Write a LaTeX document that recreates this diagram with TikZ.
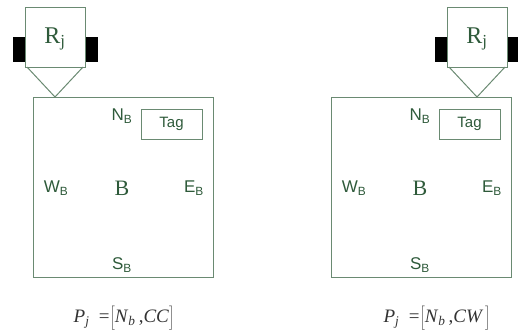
\documentclass[tikz,border=0pt]{standalone}
\usepackage{fontspec}
\setmainfont{Liberation Serif}
\newfontfamily\arialfont{Liberation Sans}
\usepackage{tikz}
\usetikzlibrary{positioning}
\definecolor{edge}{HTML}{6A8A72}
\definecolor{ink}{HTML}{2E5A3A}
\definecolor{formula}{HTML}{333333}

\begin{document}
\begin{tikzpicture}[x=1pt, y=-1pt, every node/.style={inner sep=0pt, text=ink},
    side/.style={font=\arialfont\fontsize{17}{17}\selectfont},
    wheel/.style={fill=black, draw=black}]
  \useasboundingbox (0,0) rectangle (518,335);
  \clip (0,0) rectangle (518,335);

  \foreach \ox/\rx/\fx/\dir/\id in {33/55/124/CC/L, 331/477/437/CW\,/R}{
    % Robot
    \filldraw[wheel] (\rx-42,37) rectangle (\rx-30,61);
    \filldraw[wheel] (\rx+30,37) rectangle (\rx+42,61);
    \filldraw[fill=white, draw=edge, line width=1pt] (\rx-30,7) rectangle (\rx+30,67);
    \node[font=\fontsize{24}{24}\selectfont] (robot\id) at (\rx,39) {R\textsubscript{j}};
    \draw[edge, line width=1pt] (\rx-28,67) -- (\rx,97) -- (\rx+28,67);

    % Block
    \draw[edge, line width=1pt] (\ox,97) rectangle (\ox+180,277);
    \node[side] (north\id) at (\ox+89,116) {N\textsubscript{B}};
    \node[draw=edge, line width=1pt, minimum width=61pt, minimum height=30pt,
          font=\arialfont\fontsize{15}{15}\selectfont] (tag\id) at (\ox+138.5,124) {Tag};
    \node[side] (west\id) at (\ox+23,188) {W\textsubscript{B}};
    \node[font=\fontsize{22}{22}\selectfont] (block\id) at (\ox+89,188) {B};
    \node[side] (east\id) at (\ox+161,188) {E\textsubscript{B}};
    \node[side] (south\id) at (\ox+89,265) {S\textsubscript{B}};

    % Path
    \node[text=formula, font=\fontsize{19}{19}\selectfont] (path\id) at (\fx,318)
      {\textit{P}\textsubscript{\textit{j}}\ \ =$\bigg[$\textit{N}\textsubscript{\textit{b}}\,,\textit{\dir}$\bigg]$};
  }
\end{tikzpicture}
\end{document}
